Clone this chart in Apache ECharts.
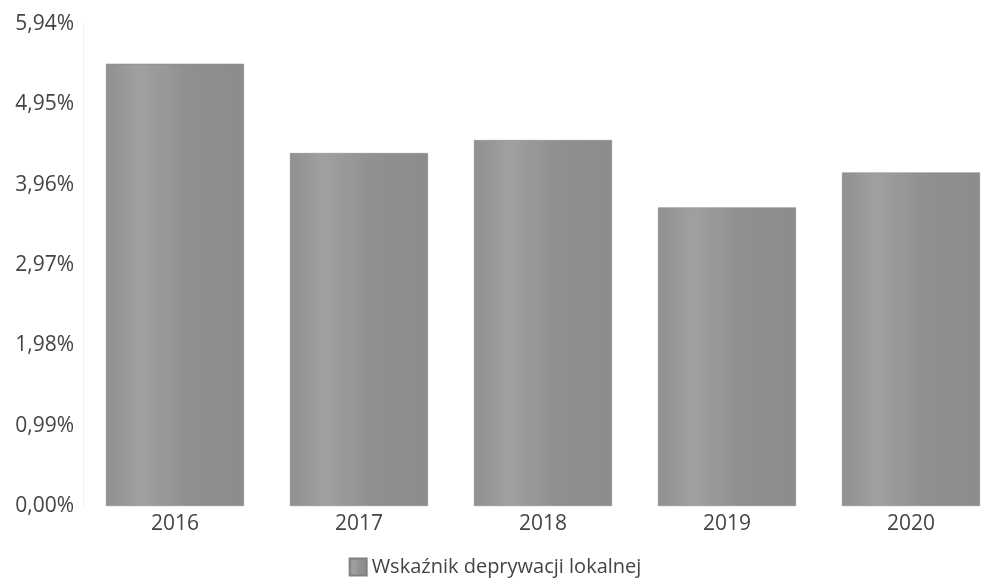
<!DOCTYPE html>
<html>
<head>
<meta charset="utf-8">
<script src="https://cdn.jsdelivr.net/npm/echarts@6/dist/echarts.min.js"></script>
<style>html,body{margin:0;padding:0;background:#fff}#c{width:990px;height:586px}</style>
</head>
<body>
<div id="c"></div>
<script>
const categories = ['2016', '2017', '2018', '2019', '2020'];
const seriesName = 'Wskaźnik deprywacji lokalnej';
const values = [5.45, 4.35, 4.51, 3.68, 4.11];
const yMin = 0, yMax = 5.94, yInterval = 0.99;

const chart = echarts.init(document.getElementById('c'), null, {renderer: 'canvas'});
const barColor = new echarts.graphic.LinearGradient(0, 0, 1, 0, [
  {offset: 0, color: '#909090'},
  {offset: 0.25, color: '#a0a0a0'},
  {offset: 0.6, color: '#909090'},
  {offset: 1, color: '#8c8c8c'}
]);
chart.setOption({
  animation: false,
  grid: {left: 83, width: 920, top: 24, bottom: 80, containLabel: false, outerBoundsMode: 'none'},
  legend: {
    bottom: 4, left: 'center',
    itemWidth: 17, itemHeight: 17, itemGap: 6,
    textStyle: {fontFamily: 'Open Sans', fontSize: 20, color: '#444'},
    icon: 'rect',
    data: [seriesName]
  },
  xAxis: {
    type: 'category', data: categories,
    axisLine: {show: false}, axisTick: {show: false},
    axisLabel: {fontFamily: 'Open Sans', fontSize: 21, color: '#444', margin: 8}
  },
  yAxis: {
    type: 'value', min: yMin, max: yMax, interval: yInterval,
    axisLine: {show: true, lineStyle: {color: '#f0f0f0'}},
    axisTick: {show: false},
    splitLine: {show: false},
    axisLabel: {
      fontFamily: 'Open Sans', fontSize: 21, color: '#444', margin: 9,
      formatter: v => v.toFixed(2).replace('.', ',') + '%'
    }
  },
  series: [{
    name: seriesName, type: 'bar', data: values,
    barWidth: '75%',
    itemStyle: {color: barColor, borderColor: '#808080', borderWidth: 0.5}
  }]
});
</script>
</body>
</html>
